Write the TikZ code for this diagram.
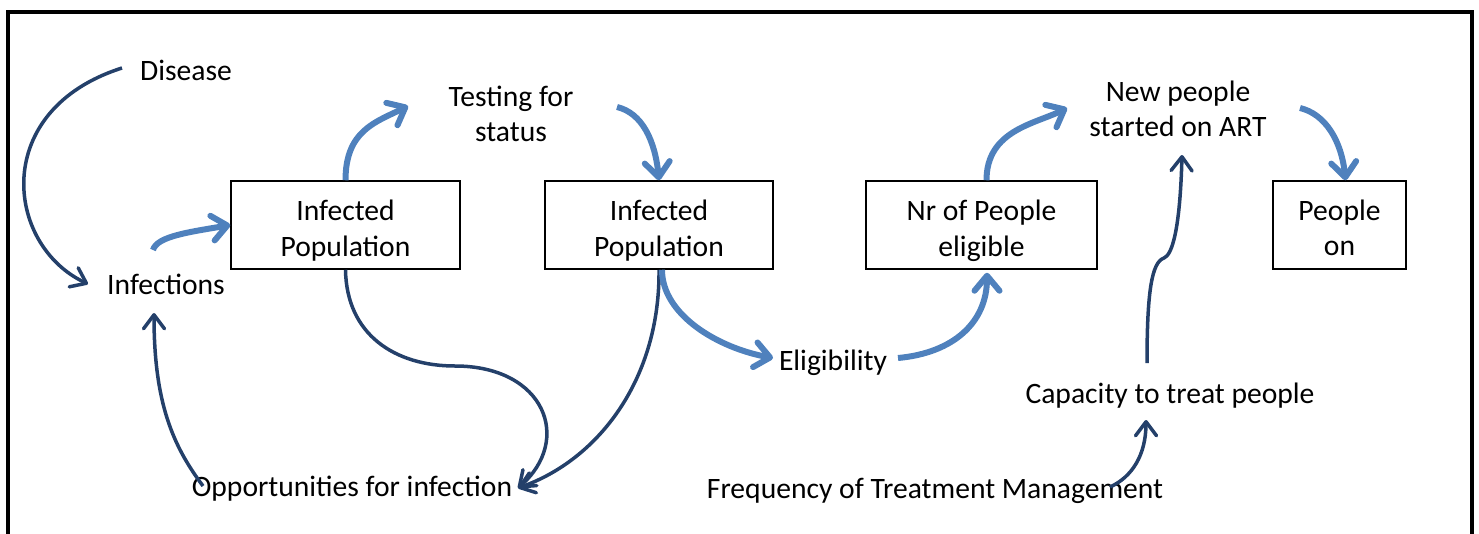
\documentclass[tikz,border=0pt]{standalone}
\usepackage{fontspec}
\setmainfont{Carlito}
\usetikzlibrary{arrows.meta,calc}
\definecolor{navy}{HTML}{24406A}
\definecolor{flowblue}{HTML}{4F81BD}
\newcommand{\toppad}[1]{\rule{0pt}{#1}}
\tikzset{
  txt/.style={inner sep=0pt, align=center, font=\fontsize{29.6}{35.5}\selectfont},
  stock/.style={txt, draw=black, line width=1.5pt, minimum height=88pt},
  flow/.style={draw=flowblue, line width=6pt,
    -{Straight Barb[length=15pt,width=25pt,round]}},
  link/.style={draw=navy, line width=3.5pt,
    -{Straight Barb[length=14pt,width=21pt,round]}},
}
\begin{document}
\begin{tikzpicture}[x=1pt,y=1pt]
\useasboundingbox (0,0) rectangle (1479,-533);
% outer frame (open at the bottom edge of the page)
\draw[line width=4pt] (8,-545) -- (8,-11.5) -- (1472,-11.5) -- (1472,-545);

% variables and stocks
\node[txt] (dis) at (186,-70) {Disease};
\node[txt] (inf) at (166,-284) {Infections};
\node[stock, minimum width=229pt] (pop1) at (345.5,-225) {\toppad{32pt}Infected\\Population};
\node[txt] (test) at (511,-114) {Testing for\\status};
\node[stock, minimum width=228pt] (pop2) at (659,-225) {\toppad{32pt}Infected\\Population};
\node[txt] (elig) at (833,-362.5) {Eligibility};
\node[stock, minimum width=231pt] (nre) at (981.5,-225) {\toppad{32pt}Nr of People\\eligible};
\node[txt] (newp) at (1178,-109) {New people\\started on ART};
\node[stock, minimum width=133pt] (pon) at (1339.5,-225) {\toppad{26pt}People\\on};
\node[txt] (cap) at (1170,-395.5) {Capacity to treat people};
\node[txt] (freq) at (935,-491) {Frequency of Treatment Management};
\node[txt] (opp) at (352,-489) {Opportunities for infection};

% information links
\draw[link] ($(dis.center)+(-64,2)$) .. controls +(-132,-42) and +(-83,39) .. ($(inf.center)+(-78,0)$);
\draw[link] (pop1.south) .. controls +(1,-65) and +(-60,0) .. (455,-366)
  .. controls +(90,0) and +(55,48) .. ($(opp.center)+(166,1)$);
\draw[link] (pop2.south) .. controls +(1,-110) and +(80,28) .. ($(opp.center)+(166,1)$);
\draw[link] ($(opp.center)+(-149,3)$) .. controls +(-30,40) and +(0,-90) .. ($(inf.center)+(-12,-29)$);
\draw[link] ($(cap.center)+(-23,32.5)$) .. controls +(0,73) and +(-12,-4) .. (1164,-258)
  .. controls +(8,3) and +(-2,-75) .. ($(newp.center)+(4,-46)$);
\draw[link] ($(freq.center)+(175,4)$) .. controls +(22,10) and +(0,-35) .. ($(cap.center)+(-24,-24.5)$);

% material flows
\draw[flow] ($(inf.center)+(-13,34)$) .. controls +(4,14) and +(-40,-7) .. (pop1.west);
\draw[flow] (pop1.north) .. controls +(0,50) and +(-32,-16) .. ($(test.center)+(-103,8)$);
\draw[flow] ($(test.center)+(106,7)$) .. controls +(25,-6) and +(-4,40) .. (pop2.north);
\draw[flow] ($(pop2.south)+(3,0)$) .. controls +(0,-45) and +(-55,10) .. ($(elig.center)+(-60,4.5)$);
\draw[flow] ($(elig.center)+(65,4.5)$) .. controls +(55,5) and +(0,-50) .. ($(nre.south)+(5.5,-3)$);
\draw[flow] ($(nre.north)+(5,0)$) .. controls +(0,50) and +(-32,-16) .. ($(newp.center)+(-111,1)$);
\draw[flow] ($(newp.center)+(122,1)$) .. controls +(25,-6) and +(-4,40) .. ($(pon.north)+(6,0)$);
\end{tikzpicture}
\end{document}
